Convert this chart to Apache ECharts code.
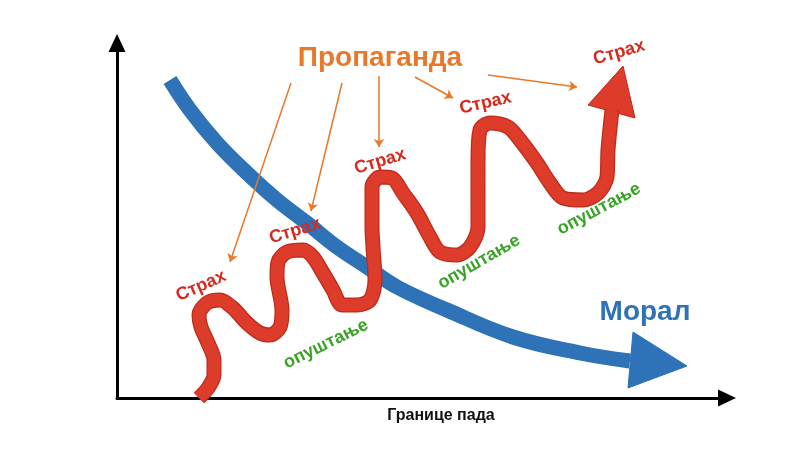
<!DOCTYPE html>
<html>
<head>
<meta charset="utf-8">
<script src="https://cdn.jsdelivr.net/npm/echarts@6/dist/echarts.min.js"></script>
<style>
  html, body { margin: 0; padding: 0; background: #fff; }
  #chart { width: 800px; height: 450px; }
</style>
</head>
<body>
<div id="chart"></div>
<script>
// diagram units: x 0..122, y 0..71
const redX = [16.4, 18.2, 19.4, 19.4, 18.2, 16.8, 16.4, 18, 20.6, 23.2, 26, 28.6, 30.6, 32.6, 33, 32, 32.2, 34, 37.2, 39.2, 41.2, 43.2, 45, 48, 50.6, 51.6, 51.2, 51, 51, 52.6, 55, 57.2, 60, 62.6, 64.6, 68, 70.6, 72.2, 72.2, 72.6, 74.6, 78.2, 80.6, 84, 86.6, 89.2, 93.2, 96.2, 98, 98.2, 99]
const redY = [0, 2, 4.6, 7.6, 11, 14.2, 16.6, 19, 19.6, 18, 15, 13, 12.6, 14.2, 17.6, 24.2, 27.2, 29.2, 29.6, 28.2, 25, 21.6, 18.6, 18.6, 19.6, 23.6, 30.2, 34.2, 42.2, 44.2, 44, 41, 37, 32.2, 29.2, 28.6, 30.2, 34.2, 47.6, 53.6, 55, 54.2, 51.6, 47, 43, 40, 39.6, 41, 44.2, 49.6, 57.6]
const redHead = [94.2, 58.6, 101.2, 66.4, 103.6, 56]

const blueX = [10.6, 14.6, 20, 26, 32, 38, 44, 50, 56, 66, 79.2, 92.6, 102.6]
const blueY = [63.6, 57.6, 51, 45, 39.6, 35, 30.2, 26.2, 22.2, 17.6, 12.2, 9, 7.4]
const blueHead = [103.2, 13.2, 114, 6.4, 102.2, 2]

// propaganda arrows: [fromX, fromY, toX, toY]
const propArrows = [
  [34.8, 63, 22.6, 27.2],
  [45, 63, 38.8, 37.4],
  [52.4, 64.4, 52.4, 50.2],
  [59.6, 64.2, 67.2, 60],
  [74.2, 64.6, 92, 62.2],
]

const fearPos = [[16.8, 22.4], [35.6, 33.4], [52.6, 47.3], [73.7, 59], [100.4, 69.1]]
const fearRot = [24, 17, 17, 13, 16]
const relaxPos = [[41.8, 10.8], [72.4, 27.2], [96.4, 37.8]]
const relaxRot = [26, 30, 28]

const FONT = '"Liberation Sans", Arial, sans-serif'
const RED = '#dc3c29'
const BLUE = '#2e72b8'
const ORANGE = '#e8782a'

const zip = (xs, ys) => xs.map((x, i) => [x, ys[i]])

const headSeries = (vals, fill, stroke, z) => ({
  type: 'custom',
  z,
  silent: true,
  data: [vals],
  renderItem: (params, api) => {
    const pts = []
    for (let i = 0; i < 3; i++) pts.push(api.coord([api.value(i * 2), api.value(i * 2 + 1)]))
    return {
      type: 'polygon',
      shape: { points: pts },
      style: { fill, stroke, lineWidth: 1 },
    }
  },
})

const textSeries = (items, fontSize, color, z) => ({
  type: 'scatter',
  z,
  silent: true,
  symbolSize: 0,
  itemStyle: { opacity: 1 },
  data: items.map((it) => ({
    value: it.pos,
    label: {
      show: true,
      position: 'inside',
      formatter: it.text,
      rotate: it.rot || 0,
      fontSize,
      fontWeight: 'bold',
      fontFamily: FONT,
      color,
      opacity: 1,
    },
  })),
})

const chart = echarts.init(document.getElementById('chart'))
chart.setOption({
  animation: false,
  backgroundColor: '#fff',
  grid: { left: 117, top: 43, width: 610, height: 355 },
  xAxis: {
    type: 'value',
    min: 0,
    max: 122,
    splitLine: { show: false },
    axisTick: { show: false },
    axisLabel: { show: false },
    axisLine: {
      show: true,
      symbol: ['none', 'triangle'],
      symbolSize: [17, 18],
      lineStyle: { color: '#000', width: 3 },
    },
    name: 'Границе пада',
    nameLocation: 'middle',
    nameGap: 10,
    nameTextStyle: {
      fontSize: 16,
      fontWeight: 'bold',
      fontFamily: FONT,
      color: '#111',
      padding: [0, 0, 0, 38],
    },
  },
  yAxis: {
    type: 'value',
    min: 0,
    max: 71,
    splitLine: { show: false },
    axisTick: { show: false },
    axisLabel: { show: false },
    axisLine: {
      show: true,
      symbol: ['none', 'triangle'],
      symbolSize: [17, 18],
      lineStyle: { color: '#000', width: 3 },
    },
  },
  series: [
    {
      type: 'line',
      z: 2,
      silent: true,
      showSymbol: false,
      smooth: 0.4,
      data: zip(blueX, blueY),
      lineStyle: { color: BLUE, width: 15, cap: 'butt' },
    },
    headSeries(blueHead, BLUE, BLUE, 2),
    {
      type: 'line',
      z: 3,
      silent: true,
      showSymbol: false,
      smooth: 0.3,
      data: zip(redX, redY),
      lineStyle: { color: '#c02a1b', width: 15, cap: 'butt', join: 'round' },
    },
    {
      type: 'line',
      z: 3,
      silent: true,
      showSymbol: false,
      smooth: 0.3,
      data: zip(redX, redY),
      lineStyle: { color: RED, width: 12.5, cap: 'butt', join: 'round' },
    },
    headSeries(redHead, RED, '#c02a1b', 3),
    {
      type: 'lines',
      coordinateSystem: 'cartesian2d',
      z: 4,
      silent: true,
      symbol: ['none', 'arrow'],
      symbolSize: 8,
      lineStyle: { color: ORANGE, width: 1.5, opacity: 1 },
      data: propArrows.map((a) => ({ coords: [[a[0], a[1]], [a[2], a[3]]] })),
    },
    textSeries(fearPos.map((p, i) => ({ pos: p, text: 'Страх', rot: fearRot[i] })), 18, '#d52a1d', 5),
    textSeries(relaxPos.map((p, i) => ({ pos: p, text: 'опуштање', rot: relaxRot[i] })), 18, '#3aa427', 5),
    textSeries([{ pos: [52.6, 68], text: 'Пропаганда' }], 28, ORANGE, 5),
    textSeries([{ pos: [105.6, 17.2], text: 'Морал' }], 28, BLUE, 5),
  ],
})
</script>
</body>
</html>
